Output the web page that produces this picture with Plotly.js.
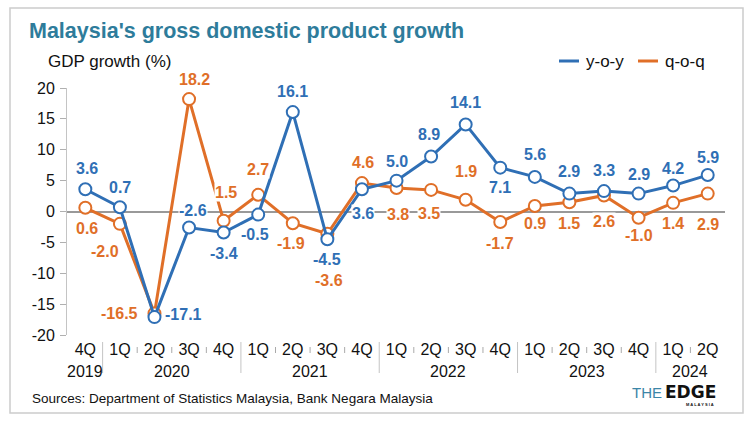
<!DOCTYPE html>
<html>
<head>
<meta charset="utf-8">
<script src="https://cdn.plot.ly/plotly-3.0.1.min.js"></script>
<style>
  html, body { margin: 0; padding: 0; background: #fff; }
  #chart { width: 750px; height: 422px; }
</style>
</head>
<body>
<div id="chart"></div>
<script>
// ---- data ----
const quarters = ['4Q','1Q','2Q','3Q','4Q','1Q','2Q','3Q','4Q','1Q','2Q','3Q','4Q','1Q','2Q','3Q','4Q','1Q','2Q'];
const quarterYears = ['2019','2020','2020','2020','2020','2021','2021','2021','2021','2022','2022','2022','2022','2023','2023','2023','2023','2024','2024'];
const yoy = [3.6, 0.7, -17.1, -2.6, -3.4, -0.5, 16.1, -4.5, 3.6, 5.0, 8.9, 14.1, 7.1, 5.6, 2.9, 3.3, 2.9, 4.2, 5.9];
const qoq = [0.6, -2.0, -16.5, 18.2, -1.5, 2.7, -1.9, -3.6, 4.6, 3.8, 3.5, 1.9, -1.7, 0.9, 1.5, 2.6, -1.0, 1.4, 2.9];
const yoyLabels = ['3.6','0.7','-17.1','-2.6','-3.4','-0.5','16.1','-4.5','3.6','5.0','8.9','14.1','7.1','5.6','2.9','3.3','2.9','4.2','5.9'];
const qoqLabels = ['0.6','-2.0','-16.5','18.2','1.5','2.7','-1.9','-3.6','4.6','3.8','3.5','1.9','-1.7','0.9','1.5','2.6','-1.0','1.4','2.9'];
const seriesNames = ['y-o-y', 'q-o-q'];

// ---- label placement (pixel offsets from point: [dx, dy], dy downward) ----
const yoyOffsets = [[2,-21],[0,-20],[29,-3],[4,-17],[0,21],[-3,20],[0,-21],[0,20],[1,24],[0,-19],[-2,-22],[0,-22],[0,20],[0,-22],[0,-22],[0,-21],[0,-19],[0,-17],[0,-18]];
const qoqOffsets = [[2,21],[-15,28],[-35,0],[5,-20],[2,-28],[0,-25],[-2,20],[2,47],[1,-21],[1,26],[-2,24],[0,-28],[0,21],[0,18],[0,21],[0,26],[0,18],[0,21],[0,31]];

// ---- styles ----
const BLUE = '#2f6fb5';
const ORANGE = '#e06f28';
const TEAL = '#2e7c9b';
const FONT = 'Liberation Sans, Arial, Helvetica, sans-serif';

const Wd = 750, Ht = 422;
const L = 67, R = 25, T = 88, B = 87;
const PW = Wd - L - R, PH = Ht - T - B;
const px2x = px => (px - L) / PW;
const py2y = py => (Ht - B - py) / PH;

const xs = quarters.map((_, i) => i);

const traces = [
  {
    x: xs, y: qoq, name: seriesNames[1], type: 'scatter', mode: 'lines+markers',
    line: {color: ORANGE, width: 3},
    marker: {symbol: 'circle', size: 12, color: '#ffffff', line: {color: ORANGE, width: 2}},
    showlegend: false, hoverinfo: 'skip'
  },
  {
    x: xs, y: yoy, name: seriesNames[0], type: 'scatter', mode: 'lines+markers',
    line: {color: BLUE, width: 3},
    marker: {symbol: 'circle', size: 12, color: '#ffffff', line: {color: BLUE, width: 2}},
    showlegend: false, hoverinfo: 'skip'
  }
];

const annotations = [];
const shapes = [];

// data labels
function addLabels(vals, labels, offs, color) {
  vals.forEach((v, i) => {
    annotations.push({
      x: i, y: v, xref: 'x', yref: 'y', text: labels[i], showarrow: false,
      xshift: offs[i][0], yshift: -offs[i][1],
      font: {family: FONT, size: 16, color: color, weight: 'bold'},
      bgcolor: '#ffffff', borderpad: 0
    });
  });
}
addLabels(qoq, qoqLabels, qoqOffsets, ORANGE);
addLabels(yoy, yoyLabels, yoyOffsets, BLUE);

// year labels, separators and quarter ticks
const yearList = [...new Set(quarterYears)];
yearList.forEach(yr => {
  const idx = xs.filter(i => quarterYears[i] === yr);
  const c = (idx[0] + idx[idx.length - 1]) / 2;
  annotations.push({
    x: c, xref: 'x', y: py2y(371), yref: 'paper', yanchor: 'middle', text: yr,
    showarrow: false, font: {family: FONT, size: 16, color: '#111'}
  });
});
xs.forEach(i => {
  if (i === 0) return;
  if (quarterYears[i] !== quarterYears[i - 1]) {
    shapes.push({type: 'line', xref: 'x', yref: 'paper', x0: i - 0.5, x1: i - 0.5,
      y0: py2y(342), y1: py2y(373), line: {color: '#c4c4c4', width: 1}});
  } else {
    shapes.push({type: 'line', xref: 'x', yref: 'paper', x0: i - 0.5, x1: i - 0.5,
      y0: py2y(347), y1: py2y(353), line: {color: '#aaaaaa', width: 1}});
  }
});

// outer frame
shapes.push({type: 'rect', xref: 'paper', yref: 'paper',
  x0: px2x(10), x1: px2x(743), y0: py2y(413), y1: py2y(8),
  line: {color: '#cccccc', width: 1.5}, fillcolor: 'rgba(0,0,0,0)', layer: 'below'});

// legend (manual)
shapes.push({type: 'line', xref: 'paper', yref: 'paper', x0: px2x(559), x1: px2x(579), y0: py2y(61), y1: py2y(61), line: {color: BLUE, width: 3}});
shapes.push({type: 'line', xref: 'paper', yref: 'paper', x0: px2x(638), x1: px2x(658), y0: py2y(61), y1: py2y(61), line: {color: ORANGE, width: 3}});
annotations.push({xref: 'paper', yref: 'paper', x: px2x(584), y: py2y(62), xanchor: 'left', yanchor: 'middle',
  text: seriesNames[0], showarrow: false, font: {family: FONT, size: 17, color: '#111'}});
annotations.push({xref: 'paper', yref: 'paper', x: px2x(663), y: py2y(62), xanchor: 'left', yanchor: 'middle',
  text: seriesNames[1], showarrow: false, font: {family: FONT, size: 17, color: '#111'}});

// y-axis title
annotations.push({xref: 'paper', yref: 'paper', x: px2x(46), y: py2y(62), xanchor: 'left', yanchor: 'middle',
  text: 'GDP growth (%)', showarrow: false, font: {family: FONT, size: 17, color: '#111'}});

// source
annotations.push({xref: 'paper', yref: 'paper', x: px2x(30), y: py2y(398), xanchor: 'left', yanchor: 'middle',
  text: 'Sources: Department of Statistics Malaysia, Bank Negara Malaysia', showarrow: false,
  font: {family: FONT, size: 13.5, color: '#111'}});

// logo
annotations.push({xref: 'paper', yref: 'paper', x: px2x(664), y: py2y(392), xanchor: 'right', yanchor: 'middle',
  text: 'THE', showarrow: false, font: {family: 'Liberation Sans Narrow, Arial Narrow, sans-serif', size: 15, color: '#3b86a8'}});
annotations.push({xref: 'paper', yref: 'paper', x: px2x(663), y: py2y(392), xanchor: 'left', yanchor: 'middle',
  text: 'EDGE', showarrow: false, font: {family: 'DejaVu Sans, sans-serif', size: 17, color: '#111', weight: 'bold'}});
annotations.push({xref: 'paper', yref: 'paper', x: px2x(700), y: py2y(404), xanchor: 'center', yanchor: 'middle',
  text: 'M A L A Y S I A', showarrow: false, font: {family: FONT, size: 4, color: '#111', weight: 'bold'}});

const layout = {
  width: Wd, height: Ht,
  margin: {l: L, r: R, t: T, b: B, pad: 0},
  paper_bgcolor: '#ffffff', plot_bgcolor: '#ffffff',
  showlegend: false,
  title: {
    text: "Malaysia's gross domestic product growth",
    x: 29 / Wd, xanchor: 'left', xref: 'container',
    y: 1 - 30 / Ht, yanchor: 'middle', yref: 'container',
    font: {family: FONT, size: 21.5, color: TEAL, weight: 'bold'}
  },
  xaxis: {
    range: [-0.53, 18.5], tickmode: 'array', tickvals: xs, ticktext: quarters,
    showgrid: false, zeroline: false, showline: false, ticks: '',
    tickfont: {family: FONT, size: 16, color: '#111'}, ticklabelstandoff: 3,
    fixedrange: true
  },
  yaxis: {
    range: [-20, 20], tickmode: 'array', tickvals: [-20, -15, -10, -5, 0, 5, 10, 15, 20],
    ticktext: ['-20', '-15', '-10', '-5', '0', '5', '10', '15', '20'],
    showgrid: false, showline: true, linecolor: '#c4c4c4', linewidth: 1,
    ticks: 'outside', ticklen: 6, tickcolor: '#b0b0b0', tickwidth: 1,
    zeroline: true, zerolinecolor: '#999999', zerolinewidth: 2,
    tickfont: {family: FONT, size: 16, color: '#111'}, ticklabelstandoff: 2,
    fixedrange: true
  },
  annotations: annotations,
  shapes: shapes
};

Plotly.newPlot('chart', traces, layout, {displayModeBar: false, staticPlot: true});
</script>
</body>
</html>
